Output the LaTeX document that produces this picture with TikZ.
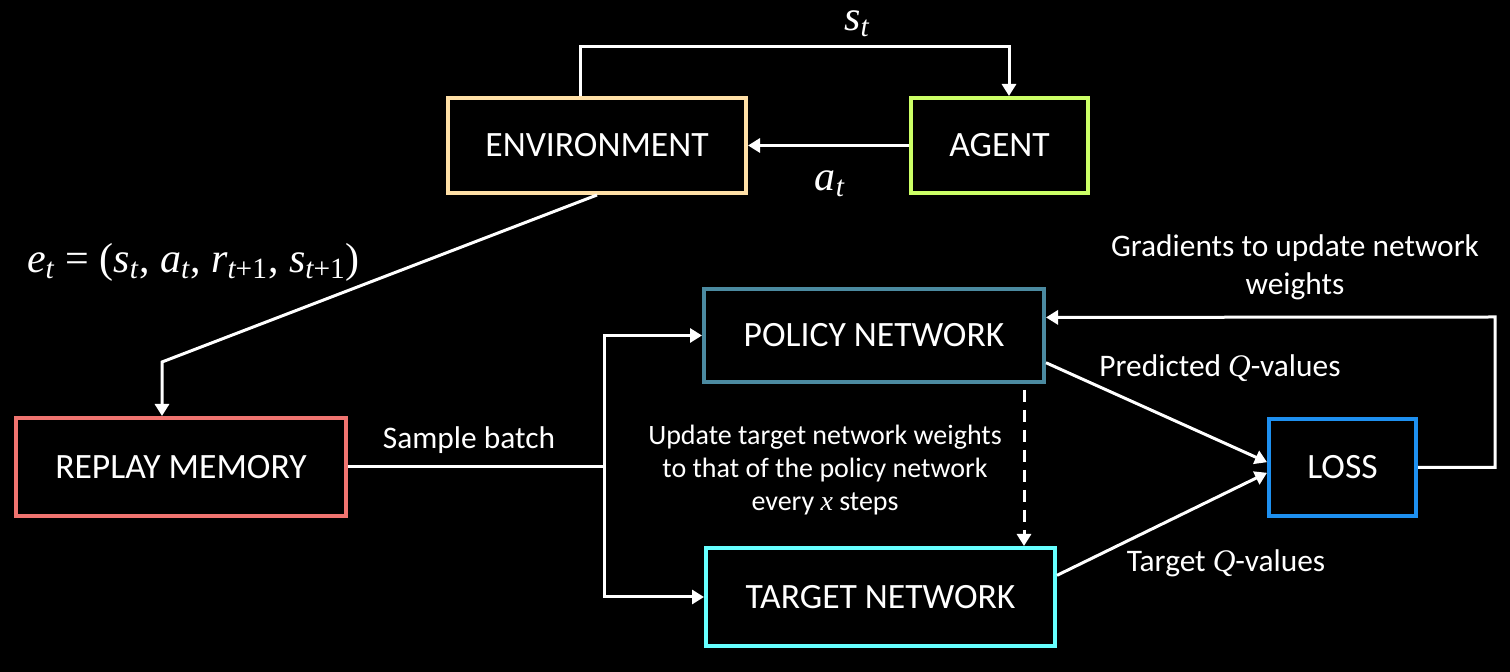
\documentclass[tikz,border=0pt]{standalone}
\usepackage{fontspec}
\setmainfont{Carlito}
\newfontfamily\tms{Liberation Serif}
\usetikzlibrary{arrows.meta}
\definecolor{envcol}{HTML}{FFDFA6}
\definecolor{agentcol}{HTML}{CCFF66}
\definecolor{replaycol}{HTML}{F07470}
\definecolor{policycol}{HTML}{4B8AA0}
\definecolor{targetcol}{HTML}{66FFFF}
\definecolor{losscol}{HTML}{1E90F0}
\newcommand{\vr}[1]{{\tms\itshape #1}}
\newcommand{\vsub}[2]{\vr{#1}\textsubscript{\tms #2}}
\tikzset{
    box/.style={draw, line width=2pt, text=white, fill=black, inner sep=0pt,
        font=\fontsize{17.8}{21}\selectfont},
    arr/.style={white, line width=1.5pt, -{Triangle[width=7pt,length=6pt]}},
    lbl/.style={text=white, font=\fontsize{15.7}{19}\selectfont},
    mlbl/.style={text=white, font=\tms\fontsize{21}{24}\selectfont},
}
\begin{document}
\begin{tikzpicture}[x=0.5pt, y=-0.5pt]
            \fill[black] (0,0) rectangle (1510,672);
            \useasboundingbox (0,0) rectangle (1510,672);
            % boxes
            \node[box, draw=envcol, minimum width=149pt, minimum height=47.5pt] (env) at (597,145.5) {ENVIRONMENT};
            \node[box, draw=agentcol, minimum width=88.5pt, minimum height=47.5pt] (agent) at (999.5,145.5) {AGENT};
            \node[box, draw=replaycol, minimum width=165pt, minimum height=49pt] (replay) at (181,467) {REPLAY MEMORY};
            \node[box, draw=policycol, minimum width=170pt, minimum height=46.5pt] (policy) at (874,335.5) {POLICY NETWORK};
            \node[box, draw=targetcol, minimum width=174.5pt, minimum height=49pt] (target) at (880.5,597) {TARGET NETWORK};
            \node[box, draw=losscol, minimum width=73.5pt, minimum height=48.5pt] (loss) at (1342.5,467.5) {LOSS};
            % bends
            \coordinate (stL) at (580,47);
            \coordinate (stR) at (1009,47);
            \coordinate (et) at (162,362);
            \coordinate (split) at (604,467);
            \coordinate (upd) at (1024,0);
            \coordinate (gr) at (1495,317);
            % connectors
            \draw[arr] (env.north -| stL) -- (stL) -- (stR) -- (agent.north -| stR);
            \draw[arr] (agent.west) -- (env.east);
            \draw[arr] (env.south) -- (et) -- (replay.north -| et);
            \draw[white, line width=1.5pt] (replay.east) -- (split);
            \draw[arr] (split) |- (policy.west);
            \draw[arr] (split) |- (target.west);
            \draw[arr, dashed, dash pattern=on 6pt off 4pt] ([yshift=-3pt]policy.south -| upd) -- (target.north -| upd);
            \draw[arr] (policy.-9) -- (loss.176);
            \draw[arr] (target.7) -- (loss.184);
            \draw[arr] (loss.east) -| (gr) -- (policy.6);
            % labels
            \node[mlbl] (stlab) at (857,24) {\vsub{s}{\itshape t}};
            \node[mlbl] (atlab) at (830,184) {\vsub{a}{\itshape t}};
            \node[mlbl, anchor=west] (etlab) at (20,262) {\vsub{e}{\itshape t} = (\vsub{s}{\itshape t}, \vsub{a}{\itshape t}, \vsub{r}{\itshape t\upshape +1}, \vsub{s}{\itshape t\upshape +1})};
            \node[lbl] (samplab) at (469,440) {Sample batch};
            \node[lbl, align=center, font=\fontsize{14}{16.5}\selectfont] (updlab) at (825,470) {Update target network weights\\to that of the policy network\\every \vr{x} steps};
            \node[lbl] (predlab) at (1220,368) {Predicted \vr{Q}-values};
            \node[lbl] (targlab) at (1226,563) {Target \vr{Q}-values};
            \node[lbl, align=center] (gradlab) at (1295,267) {Gradients to update network\\weights};
        \end{tikzpicture}
\end{document}
